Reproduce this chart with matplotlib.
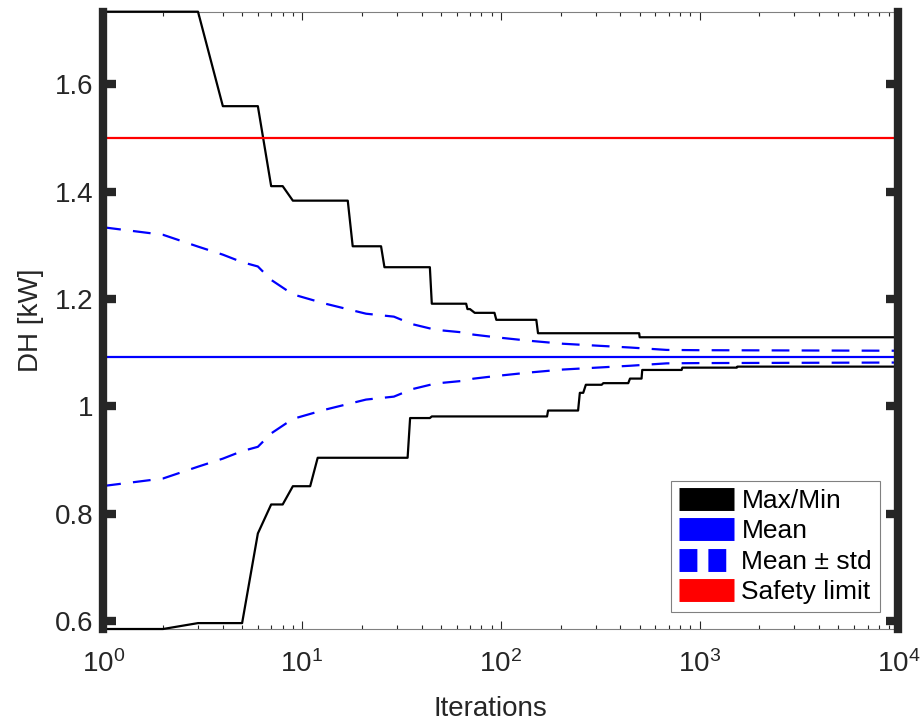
import matplotlib
matplotlib.use('Agg')
import matplotlib.pyplot as plt
from matplotlib.lines import Line2D
from matplotlib.ticker import FormatStrFormatter
import numpy as np

plt.rcParams['font.family'] = ['Liberation Sans', 'DejaVu Sans']
plt.rcParams['mathtext.fontset'] = 'custom'
plt.rcParams['mathtext.rm'] = 'Liberation Sans'
plt.rcParams['mathtext.it'] = 'Liberation Sans:italic'

# running max / min over iterations
max_iter = [1, 3, 4, 6, 7, 8, 9, 17, 18, 25, 26, 44, 45, 67, 68, 70, 74, 93, 95,
            151, 154, 497, 500, 10000]
max_vals = [1.735, 1.735, 1.559, 1.559, 1.410, 1.410, 1.383, 1.383, 1.298, 1.298,
            1.259, 1.259, 1.191, 1.191, 1.181, 1.181, 1.174, 1.174, 1.161, 1.161,
            1.136, 1.136, 1.1285, 1.1285]

min_iter = [1, 2, 3, 5, 6, 7, 8, 9, 11, 12, 34, 35, 44, 45, 171, 173, 245, 250,
            260, 268, 322, 328, 438, 447, 511, 515, 813, 820, 1540, 1550, 10000]
min_vals = [0.585, 0.585, 0.596, 0.596, 0.763, 0.817, 0.817, 0.851, 0.851, 0.904,
            0.904, 0.978, 0.978, 0.981, 0.981, 0.992, 0.992, 1.025, 1.025, 1.040,
            1.040, 1.043, 1.043, 1.0515, 1.0515, 1.0676, 1.0676, 1.0719, 1.0719,
            1.0738, 1.0738]

# mean and std
mean_val = 1.0924
iter_range = [1, 10000]
std_iter = [1, 2, 3, 4, 5, 6, 7, 9, 13, 21, 29, 33, 35, 47, 65, 73, 95, 140,
            206, 303, 447, 684, 1000, 10000]
std_vals = [0.241, 0.227, 0.205, 0.19, 0.176, 0.168, 0.143, 0.116, 0.099, 0.080,
            0.0745, 0.066, 0.0615, 0.050, 0.045, 0.041, 0.036, 0.0295, 0.024,
            0.0205, 0.017, 0.0125, 0.012, 0.011]

safety_limit = 1.5

fig = plt.figure(figsize=(9.22, 7.22), dpi=100)
ax = fig.add_axes([0.1119, 0.1288, 0.8624, 0.855])

std_arr = np.array(std_vals)
lw = 1.6
ax.plot(max_iter, max_vals, color='k', lw=lw, zorder=3, clip_on=False)
ax.plot(min_iter, min_vals, color='k', lw=lw, zorder=3, clip_on=False)
ax.plot(iter_range, [mean_val, mean_val], color='b', lw=lw, zorder=3)
ax.plot(std_iter, mean_val + std_arr, color='b', lw=lw, ls=(0, (8, 5.5)), zorder=3)
ax.plot(std_iter, mean_val - std_arr, color='b', lw=lw, ls=(0, (8, 5.5)), zorder=3)
ax.plot(iter_range, [safety_limit, safety_limit], color='r', lw=lw, zorder=3)

ax.set_xscale('log')
ax.set_xlim(1, 1e4)
ax.set_ylim(min(min_vals), max(max_vals))
ax.set_yticks([0.6, 0.8, 1.0, 1.2, 1.4, 1.6])
ax.yaxis.set_major_formatter(FormatStrFormatter('%g'))

dark = '#262626'
for s in ['left', 'right']:
    ax.spines[s].set_linewidth(6)
    ax.spines[s].set_color(dark)
    ax.spines[s].set_zorder(4)
for s in ['top', 'bottom']:
    ax.spines[s].set_linewidth(0.8)
    ax.spines[s].set_color('#808080')
    ax.spines[s].set_zorder(2)

ax.tick_params(axis='y', which='major', direction='in', left=True, right=True,
               length=9, width=6, color=dark, labelsize=20, pad=7, labelcolor=dark)
ax.tick_params(axis='x', which='both', direction='in', top=True, bottom=True,
               color=dark, labelsize=20, pad=15, labelcolor=dark)
ax.tick_params(axis='x', which='major', length=6, width=0.8)
ax.tick_params(axis='x', which='minor', length=3, width=0.8)

ax.set_xlabel('Iterations', fontsize=20, color=dark)
ax.set_ylabel('DH [kW]', fontsize=20, color=dark)
ax.xaxis.set_label_coords(0.487, -0.108)
ax.yaxis.set_label_coords(-0.074, 0.5)

handles = [
    Line2D([], [], color='k', lw=16.5, solid_capstyle='butt'),
    Line2D([], [], color='b', lw=16.5, solid_capstyle='butt'),
    Line2D([], [], color='b', lw=16.5, ls=(0, (0.78, 0.48)), dash_capstyle='butt'),
    Line2D([], [], color='r', lw=16.5, solid_capstyle='butt'),
]
labels = ['Max/Min', 'Mean', 'Mean \u00b1 std', 'Safety limit']
leg = ax.legend(handles, labels, loc='lower right', bbox_to_anchor=(0.977, 0.0275),
                borderaxespad=0, fontsize=19, handlelength=2.1, handletextpad=0.28,
                labelspacing=0.24, borderpad=0.3, fancybox=False, framealpha=1,
                edgecolor='#808080')
leg.get_frame().set_linewidth(0.8)

fig.savefig('out.png', dpi=100)
